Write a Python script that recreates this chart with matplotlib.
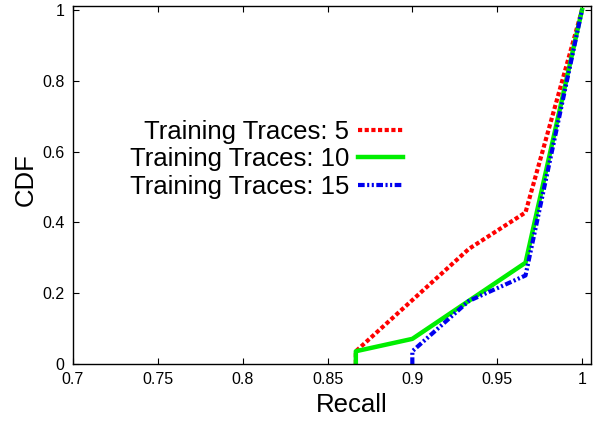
import matplotlib
matplotlib.use('Agg')
import matplotlib.pyplot as plt

plt.rcParams['font.family'] = ['Liberation Sans', 'DejaVu Sans']

# CDF curves of recall for different training set sizes
recall_5 = [0.8667, 0.8667, 0.9333, 0.9667, 1.0]
cdf_5 = [0.0, 0.036, 0.325, 0.428, 1.0]

recall_10 = [0.8667, 0.8667, 0.9, 0.9667, 1.0]
cdf_10 = [0.0, 0.036, 0.071, 0.286, 1.0]

recall_15 = [0.9, 0.9, 0.9333, 0.9667, 1.0]
cdf_15 = [0.0, 0.036, 0.178, 0.25, 1.0]

xticks = [0.7, 0.75, 0.8, 0.85, 0.9, 0.95, 1.0]
xtick_labels = ['0.7', '0.75', '0.8', '0.85', '0.9', '0.95', '1']
yticks = [0, 0.2, 0.4, 0.6, 0.8, 1.0]
ytick_labels = ['0', '0.2', '0.4', '0.6', '0.8', '1']

fig = plt.figure(figsize=(5.97, 4.21), dpi=100)
ax = fig.add_axes([73 / 597, 57 / 421, 518 / 597, 358 / 421])

ax.plot(recall_5, cdf_5, color='#ff0000', lw=3.0, linestyle=(0, (1.0, 0.6)),
        label='Training Traces: 5')
ax.plot(recall_10, cdf_10, color='#00ee00', lw=3.2, linestyle='-',
        label='Training Traces: 10')
ax.plot(recall_15, cdf_15, color='#0000ee', lw=3.0,
        linestyle=(0, (1.6, 0.6, 0.5, 0.6, 0.5, 0.6)),
        label='Training Traces: 15')

ax.set_xlim(0.7, 1.0053)
ax.set_ylim(0, 1.011)
ax.set_xticks(xticks)
ax.set_xticklabels(xtick_labels)
ax.set_yticks(yticks)
ax.set_yticklabels(ytick_labels)
ax.tick_params(direction='in', top=True, right=True, length=4, width=0.8,
               labelsize=11.5, pad=6)
for s in ax.spines.values():
    s.set_linewidth(1.0)

ax.set_xlabel('Recall', fontsize=18.5, va='center')
ax.xaxis.set_label_coords(0.539, -0.1145)
ax.set_ylabel('CDF', fontsize=18.5, va='center')
ax.yaxis.set_label_coords(-0.0907, 0.514)

leg = fig.legend(loc='upper right', bbox_to_anchor=(403 / 597, 1 - 120 / 421),
                 frameon=False, markerfirst=False, fontsize=18.5,
                 handlelength=1.75, handletextpad=0.35, labelspacing=0.13,
                 borderpad=0, borderaxespad=0)
for t in leg.get_texts():
    t.set_ha('right')

fig.savefig('out.png', dpi=100)
